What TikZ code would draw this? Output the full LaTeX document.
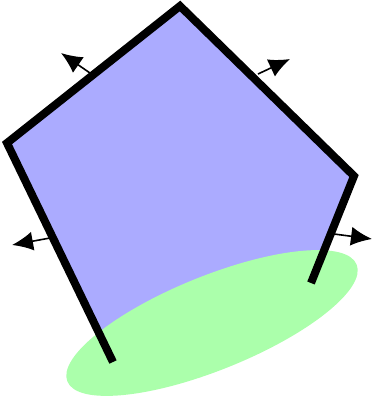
\documentclass[tikz,border=0pt]{standalone}
\usepackage{tikz}
\usetikzlibrary{arrows.meta}

\begin{document}
\begin{tikzpicture}[x=1pt, y=-1pt,
    face/.style={fill=blue!33},
    ground/.style={fill=green!33},
    rim/.style={line width=8pt, line join=miter, black},
    outnormal/.style={-{Latex[length=21pt, width=19pt]}, line width=1.6pt, black}
]
    \useasboundingbox (0,0) rectangle (372,397);

    % Corners of the face
    \coordinate (lo) at (113,362);
    \coordinate (le) at (7,143);
    \coordinate (tp) at (180,6);
    \coordinate (ri) at (354,176);
    \coordinate (ro) at (311,283);

    % Filled face, then the ground patch over it
    \fill[face] (le) -- (tp) -- (ri) -- (ro) -- (lo) -- cycle;
    \fill[ground, rotate around={22:(212,323)}] (212,323) ellipse [x radius=156, y radius=47];

    % Open boundary
    \draw[rim] (lo) -- (le) -- (tp) -- (ri) -- (ro);

    % Outward normals
    \coordinate (n1) at (90,73);   \coordinate (t1) at (61,53);
    \coordinate (n2) at (258,74);  \coordinate (t2) at (290,59);
    \coordinate (n3) at (50,238);  \coordinate (t3) at (12,245);
    \coordinate (n4) at (334,234); \coordinate (t4) at (372,239);
    \draw[outnormal] (n1) -- (t1);
    \draw[outnormal] (n2) -- (t2);
    \draw[outnormal] (n3) -- (t3);
    \draw[outnormal] (n4) -- (t4);

\end{tikzpicture}
\end{document}
